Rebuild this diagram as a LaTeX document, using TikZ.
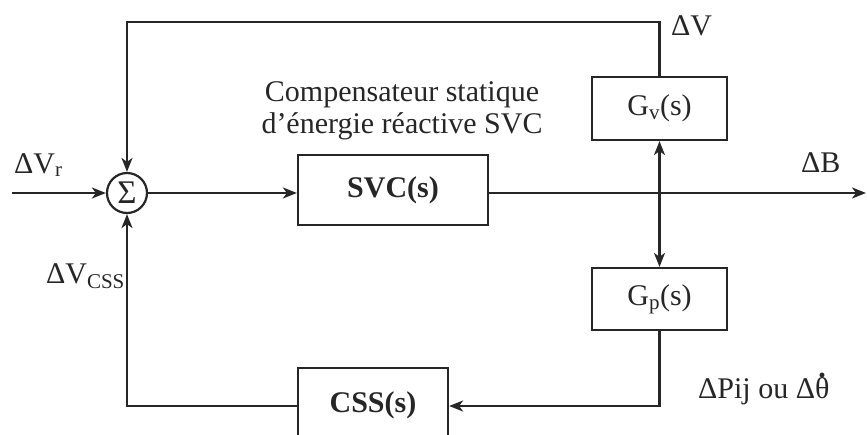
\documentclass[tikz,border=0pt]{standalone}
\usepackage{fontspec}
\setmainfont{Liberation Serif}
\usetikzlibrary{arrows.meta}
\begin{document}
\begin{tikzpicture}[x=1pt,y=-1pt,line width=2.2pt,
  every node/.style={font=\fontsize{30}{34}\selectfont,text=black!85},
  blk/.style={draw=black!85,line width=2.2pt,inner sep=0pt},
  lbl/.style={inner sep=0pt},
  arr/.style={draw=black!85,-{Stealth[length=14pt,width=11pt,inset=4pt]}},
  darr/.style={draw=black!85,{Stealth[length=14pt,width=11pt,inset=4pt]}-{Stealth[length=14pt,width=11pt,inset=4pt]}},
  ln/.style={draw=black!85}]
\useasboundingbox (0,0) rectangle (867,434);
% blocks
\node[blk,circle,minimum size=40pt,font=\fontsize{33}{36}\selectfont] (sum) at (127,193) {Σ};
\node[blk,minimum width=190pt,minimum height=70pt] (svc) at (393,190) {\bfseries SVC(s)};
\node[blk,minimum width=135pt,minimum height=63pt] (gv) at (659.5,108.5) {G\textsubscript{v}(s)};
\node[blk,minimum width=135pt,minimum height=62pt] (gp) at (659.5,299) {G\textsubscript{p}(s)};
\node[blk,minimum width=150pt,minimum height=76pt] (css) at (373,406) {\raisebox{7pt}{\bfseries CSS(s)}};
% coordinates
\coordinate (in) at (12,193);
\coordinate (out) at (866,193);
\coordinate (tr) at (659.5,22);
\coordinate (tl) at (127,22);
% connectors
\draw[arr] (in) -- (sum.west);
\draw[arr] (sum.east) -- (0,193 -| svc.west);
\draw[arr] (svc.east |- 0,193) -- (out);
\draw[arr] (gv.north) -- (tr) -- (tl) -- (sum.north);
\draw[darr] (gv.south) -- (gp.north);
\draw[arr] (gp.south) |- (css.east);
\draw[arr] (css.west) -| (sum.south);
% labels
\node[lbl,anchor=base west] (lvr) at (13,173) {ΔV\textsubscript{r}};
\node[lbl,anchor=base west] (lvcss) at (45,283) {ΔV\textsubscript{CSS}};
\node[lbl,anchor=base west] (ldv) at (670,35) {ΔV};
\node[lbl,anchor=base west] (ldb) at (800,172) {ΔB};
\node[lbl,anchor=base] (comp1) at (402,101) {Compensateur statique};
\node[lbl,anchor=base] (comp2) at (402,133) {d’énergie réactive SVC};
\node[lbl,anchor=base west] (lpij) at (697,398) {ΔPij ou Δ{\ooalign{θ\cr\hidewidth\raisebox{0.68em}{\bfseries .}\hidewidth\cr}}};
\end{tikzpicture}
\end{document}
